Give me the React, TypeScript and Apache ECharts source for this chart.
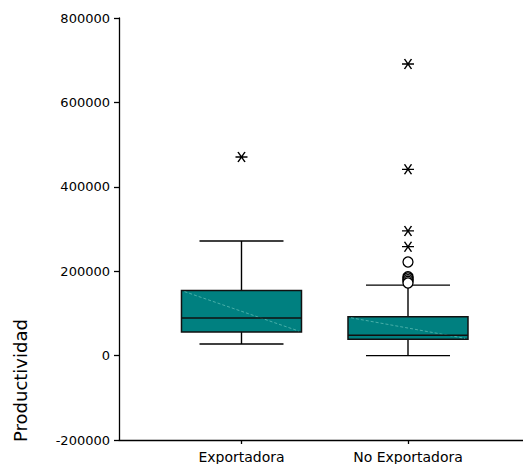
import React, { useEffect, useRef } from "react";
import * as echarts from "echarts";

// ---- data ----
const categories = ["Exportadora", "No Exportadora"];
const whiskerLow = [27500, 0];
const q1 = [56000, 38600];
const median = [89000, 48000];
const q3 = [154000, 92000];
const whiskerHigh = [271500, 167000];
// extreme outliers (asterisks): [category index, value]
const extremeCat = [1, 2, 2, 2, 2];
const extremeVal = [470600, 691000, 441500, 295300, 258000];
// outliers (circles)
const outlierCat = [2, 2, 2, 2, 2, 2];
const outlierVal = [221800, 187000, 184000, 180000, 176000, 172000];
const yTicks = { min: -200000, max: 800000, interval: 200000 };
const yName = "Productividad";

const FONT = "DejaVu Sans";

export default function App() {
  const ref = useRef<HTMLDivElement>(null);

  useEffect(() => {
    if (!ref.current) return;
    const chart = echarts.init(ref.current, null, { renderer: "svg" });

    const boxData = categories.map((_, i) => [
      i + 1,
      whiskerLow[i],
      q1[i],
      median[i],
      q3[i],
      whiskerHigh[i],
    ]);

    const option: any = {
      animation: false,
      backgroundColor: "#fff",
      grid: { left: 119, right: 0, top: 18, bottom: 24 },
      xAxis: {
        type: "value",
        min: 0.2643,
        max: 2.6907,
        splitLine: { show: false },
        axisLine: { onZero: false, lineStyle: { color: "#000", width: 1.3 } },
        axisTick: {
          show: true,
          length: 4,
          customValues: [1, 2],
          lineStyle: { color: "#000", width: 1.3 },
        },
        axisLabel: {
          customValues: [1, 2],
          formatter: (v: number) => categories[Math.round(v) - 1] ?? "",
          color: "#000",
          fontFamily: FONT,
          fontSize: 14,
          margin: 10,
        },
      },
      yAxis: {
        type: "value",
        min: yTicks.min,
        max: yTicks.max,
        interval: yTicks.interval,
        splitLine: { show: false },
        axisLine: { show: true, onZero: false, lineStyle: { color: "#000", width: 1.3 } },
        axisTick: { show: true, length: 5, lineStyle: { color: "#000", width: 1.3 } },
        axisLabel: {
          color: "#000",
          fontFamily: FONT,
          fontSize: 13,
          margin: 9,
          formatter: (v: number) => String(v),
        },
      },
      graphic: [
        {
          type: "text",
          x: 20,
          y: 442,
          rotation: Math.PI / 2,
          style: {
            text: yName,
            fill: "#000",
            font: `18px '${FONT}'`,
            textAlign: "left",
            textVerticalAlign: "middle",
            verticalAlign: "middle",
          },
        },
      ],
      series: [
        {
          type: "custom",
          data: boxData,
          encode: { x: 0, y: [1, 2, 3, 4, 5] },
          renderItem: (params: any, api: any) => {
            const x = api.value(0);
            const cx = api.coord([x, api.value(3)])[0];
            const yMin = api.coord([x, api.value(1)])[1];
            const yQ1 = api.coord([x, api.value(2)])[1];
            const yMed = api.coord([x, api.value(3)])[1];
            const yQ3 = api.coord([x, api.value(4)])[1];
            const yMax = api.coord([x, api.value(5)])[1];
            const hb = 60;
            const hc = 42;
            const ls = { stroke: "#000", lineWidth: 1.4 };
            return {
              type: "group",
              children: [
                { type: "line", shape: { x1: cx, y1: yMax, x2: cx, y2: yQ3 }, style: ls },
                { type: "line", shape: { x1: cx, y1: yQ1, x2: cx, y2: yMin }, style: ls },
                { type: "line", shape: { x1: cx - hc, y1: yMax, x2: cx + hc, y2: yMax }, style: ls },
                { type: "line", shape: { x1: cx - hc, y1: yMin, x2: cx + hc, y2: yMin }, style: ls },
                {
                  type: "rect",
                  shape: { x: cx - hb, y: yQ3, width: 2 * hb, height: yQ1 - yQ3 },
                  style: { fill: "#008080", stroke: "#111", lineWidth: 1.5 },
                },
                {
                  type: "line",
                  shape: { x1: cx - hb + 3, y1: yQ3 + 1, x2: cx + hb - 3, y2: yQ1 - 1 },
                  style: { stroke: "#5bbab2", lineWidth: 0.8, lineDash: [3, 2] },
                },
                { type: "line", shape: { x1: cx - hb, y1: yMed, x2: cx + hb, y2: yMed }, style: { stroke: "#111", lineWidth: 1.5 } },
              ],
            };
          },
          z: 2,
        },
        {
          type: "scatter",
          data: outlierCat.map((c, i) => [c, outlierVal[i]]),
          symbol: "circle",
          symbolSize: 10,
          itemStyle: { color: "#fff", borderColor: "#000", borderWidth: 1.3, opacity: 1 },
          z: 3,
        },
        {
          type: "scatter",
          data: extremeCat.map((c, i) => [c, extremeVal[i]]),
          symbol: "path://M0,5L12,5M2.5,0L9.5,10M9.5,0L2.5,10",
          symbolSize: [12, 10],
          itemStyle: { color: "none", borderColor: "#000", borderWidth: 1.4, opacity: 1 },
          z: 3,
        },
      ],
    };

    chart.setOption(option);
    return () => chart.dispose();
  }, []);

  return (
    <div
      ref={ref}
      style={{ position: "fixed", left: 0, top: 0, width: 523, height: 464, background: "#fff" }}
    />
  );
}
